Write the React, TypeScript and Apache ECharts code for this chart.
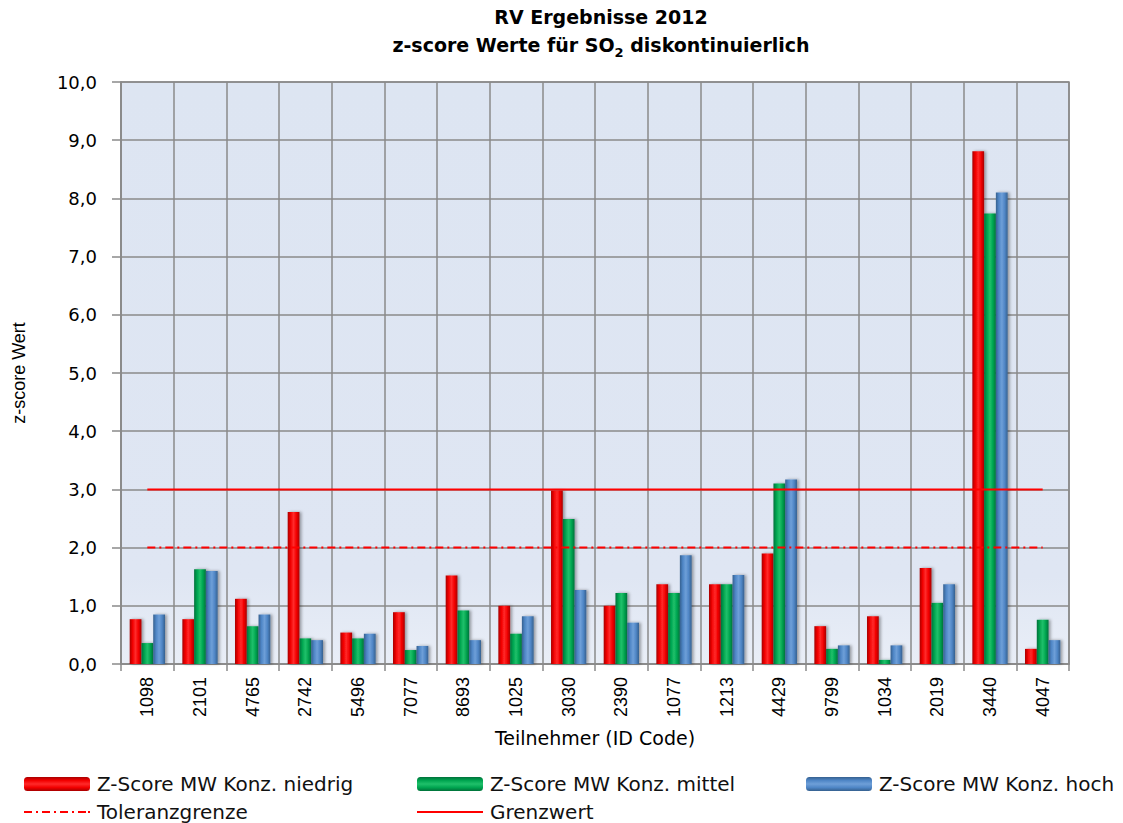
import React, { useEffect, useRef } from "react";
import * as echarts from "echarts";

// Participant ID codes
const ids = ["1098", "2101", "4765", "2742", "5496", "7077", "8693", "1025", "3030", "2390", "1077", "1213", "4429", "9799", "1034", "2019", "3440", "4047"];

// z-score values per concentration level
const niedrig = [0.77, 0.77, 1.12, 2.61, 0.54, 0.89, 1.52, 1.0, 2.98, 1.0, 1.37, 1.37, 1.9, 0.65, 0.82, 1.65, 8.81, 0.26];
const mittel = [0.36, 1.63, 0.65, 0.44, 0.44, 0.24, 0.92, 0.52, 2.49, 1.22, 1.22, 1.37, 3.1, 0.26, 0.07, 1.05, 7.74, 0.76];
const hoch = [0.85, 1.6, 0.85, 0.41, 0.52, 0.31, 0.41, 0.82, 1.27, 0.71, 1.87, 1.53, 3.17, 0.32, 0.32, 1.37, 8.1, 0.41];

// Reference limits
const toleranzgrenze = 2.0;
const grenzwert = 3.0;

const seriesNames = ["Z-Score MW Konz. niedrig", "Z-Score MW Konz. mittel", "Z-Score MW Konz. hoch", "Toleranzgrenze", "Grenzwert"];

const SANS = "DejaVu Sans";
const NARROW = "Liberation Sans";

// legend glyphs for the two limit lines (66 x 2 strips)
const ICON_SOLID = "path://M0,0h66v2h-66z";
const ICON_DASHDOT =
  "path://M0,0h8v2h-8z M12,0h2v2h-2z M18,0h8v2h-8z M30,0h2v2h-2z M36,0h8v2h-8z M48,0h2v2h-2z M54,0h8v2h-8z M64,0h2v2h-2z";

function cyl(dark: string, mid: string, light: string, vertical = false) {
  return new echarts.graphic.LinearGradient(0, 0, vertical ? 0 : 1, vertical ? 1 : 0, [
    { offset: 0, color: dark },
    { offset: 0.25, color: mid },
    { offset: 0.5, color: light },
    { offset: 0.75, color: mid },
    { offset: 1, color: dark },
  ]);
}

const palettes = [
  ["#a80000", "#f20000", "#ff2a2a"],
  ["#00713a", "#00a550", "#1fc06a"],
  ["#35608f", "#4f86c6", "#6e9fd8"],
];

export default function App() {
  const ref = useRef<HTMLDivElement>(null);

  useEffect(() => {
    document.body.style.margin = "0";
    if (!ref.current) return;
    const chart = echarts.init(ref.current, undefined, { renderer: "svg" });

    const barSeries = [niedrig, mittel, hoch].map((data, i) => ({
      name: seriesNames[i],
      type: "bar",
      data,
      barGap: "0%",
      barCategoryGap: "33%",
      itemStyle: {
        color: cyl(palettes[i][0], palettes[i][1], palettes[i][2]),
        shadowColor: "rgba(0,0,0,0.35)",
        shadowBlur: 3,
        shadowOffsetX: 2,
        shadowOffsetY: 0,
      },
      z: 2,
    }));

    const lineSeries = [
      {
        name: seriesNames[3],
        type: "line",
        data: ids.map(() => toleranzgrenze),
        symbol: "none",
        itemStyle: { color: "#ff0000" },
        lineStyle: { color: "#ff0000", width: 2, type: [8, 4, 2, 4] },
        z: 3,
      },
      {
        name: seriesNames[4],
        type: "line",
        data: ids.map(() => grenzwert),
        symbol: "none",
        itemStyle: { color: "#ff0000" },
        lineStyle: { color: "#ff0000", width: 2, type: "solid" },
        z: 3,
      },
    ];

    const legendBase = {
      orient: "horizontal",
      itemWidth: 66,
      itemHeight: 14,
      itemGap: 0,
      padding: 0,
      symbolKeepAspect: true,
      selectedMode: false,
      textStyle: { fontFamily: SANS, fontSize: 20, color: "#111", padding: [0, 0, 0, 2] },
    };
    const legendPos = [
      [24, 774],
      [417, 774],
      [806, 774],
      [24, 802],
      [417, 802],
    ];
    const lineIcons = [ICON_DASHDOT, ICON_SOLID];
    const legends = seriesNames.map((name, i) => ({
      ...legendBase,
      left: legendPos[i][0],
      top: legendPos[i][1],
      data: [
        i < 3
          ? { name, itemStyle: { color: cyl(palettes[i][0], palettes[i][1], palettes[i][2], true) } }
          : { name, icon: lineIcons[i - 3], itemStyle: { color: "#ff0000", borderWidth: 0 } },
      ],
    }));

    chart.setOption({
      animation: false,
      backgroundColor: "#ffffff",
      title: {
        text: "RV Ergebnisse 2012\nz-score Werte für SO{sub|2} diskontinuierlich",
        left: 596,
        top: -2,
        textAlign: "center",
        textStyle: {
          fontFamily: SANS,
          fontWeight: "bold",
          fontSize: 19,
          lineHeight: 28,
          color: "#000",
          rich: {
            sub: {
              fontFamily: SANS,
              fontWeight: "bold",
              fontSize: 13,
              lineHeight: 28,
              verticalAlign: "bottom",
              color: "#000",
            },
          },
        },
      },
      legend: legends,
      grid: {
        left: 121,
        right: 54,
        top: 82,
        bottom: 159,
        show: true,
        borderColor: "#8a8a8a",
        borderWidth: 1.5,
        backgroundColor: new echarts.graphic.LinearGradient(0, 0, 0, 1, [
          { offset: 0, color: "#dde5f2" },
          { offset: 0.85, color: "#dfe6f3" },
          { offset: 1, color: "#e9eef7" },
        ]),
      },
      xAxis: {
        type: "category",
        data: ids,
        boundaryGap: true,
        axisLine: { lineStyle: { color: "#8a8a8a", width: 1.5 } },
        axisTick: { show: true, length: 7, lineStyle: { color: "#8a8a8a", width: 1.5 } },
        splitLine: { show: true, lineStyle: { color: "#8a8a8a", width: 1.5 } },
        axisLabel: {
          rotate: 90,
          margin: 13,
          fontFamily: NARROW,
          fontSize: 18,
          color: "#000",
          interval: 0,
        },
        name: "Teilnehmer (ID Code)",
        nameLocation: "middle",
        nameGap: 64,
        nameTextStyle: { fontFamily: SANS, fontSize: 19, color: "#000" },
      },
      yAxis: {
        type: "value",
        min: 0,
        max: 10,
        interval: 1,
        axisLine: { show: true, lineStyle: { color: "#8a8a8a", width: 1.5 } },
        axisTick: { show: true, length: 9, lineStyle: { color: "#8a8a8a", width: 1.5 } },
        splitLine: { show: true, lineStyle: { color: "#8a8a8a", width: 1.5 } },
        axisLabel: {
          margin: 24,
          fontFamily: SANS,
          fontSize: 18,
          color: "#000",
          formatter: (v: number) => v.toFixed(1).replace(".", ","),
        },
        name: "z-score Wert",
        nameLocation: "middle",
        nameRotate: 90,
        nameGap: 93,
        nameTextStyle: { fontFamily: NARROW, fontSize: 18, color: "#000" },
      },
      series: [...barSeries, ...lineSeries],
    });

    return () => chart.dispose();
  }, []);

  return <div ref={ref} style={{ width: 1123, height: 823 }} />;
}
